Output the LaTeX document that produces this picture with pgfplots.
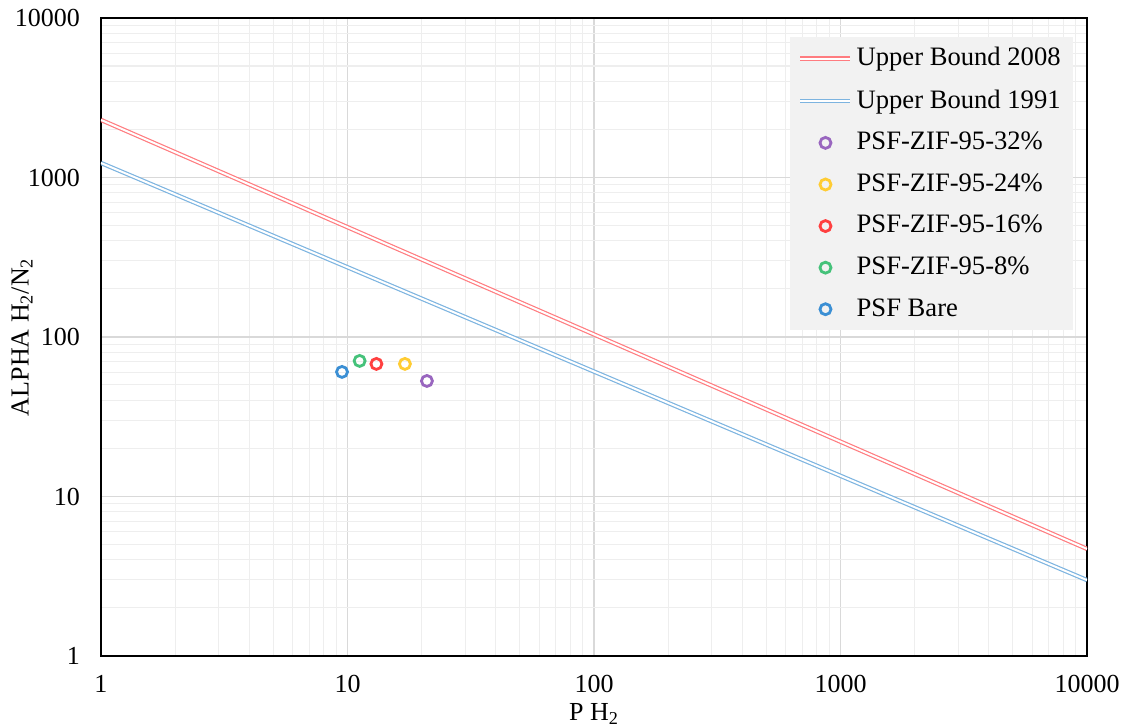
\documentclass[border=0pt]{standalone}
\usepackage{fontspec}
\setmainfont{Liberation Serif}
\usepackage{pgfplots}
\pgfplotsset{compat=1.18}
\definecolor{ubred}{HTML}{FF7C80}
\definecolor{ubblue}{HTML}{7DB4E0}
\definecolor{cpurp}{HTML}{9966BF}
\definecolor{cyell}{HTML}{FFCC33}
\definecolor{cred}{HTML}{FF4040}
\definecolor{cgreen}{HTML}{45C27A}
\definecolor{cblue}{HTML}{3B8FD4}
\definecolor{gridmaj}{HTML}{D9D9D9}
\definecolor{gridmin}{HTML}{EEEEEE}
\definecolor{legbg}{HTML}{F2F2F2}
\pgfplotsset{
  ubline/.style={draw=#1, line width=0.6pt, double=white, double distance=1pt,
    legend image code/.code={\draw[##1] (0pt,0pt) -- (25pt,0pt);}},
  mk/.style={only marks, mark=o, mark size=2.75pt,
    mark options={line width=1.4pt, draw=#1, fill=white},
    legend image code/.code={\draw[mark repeat=2,mark phase=2,##1] plot coordinates {(0pt,0pt) (12.5pt,0pt) (25pt,0pt)};}},
}
\begin{document}
\fontsize{13}{15}\selectfont
\begin{tikzpicture}
\begin{loglogaxis}[
  scale only axis, width=493pt, height=319pt,
  xmin=1, xmax=10000, ymin=1, ymax=10000,
  xtick={1,10,100,1000,10000}, xticklabels={1,10,100,1000,10000},
  ytick={1,10,100,1000,10000}, yticklabels={1,10,100,1000,10000},
  grid=both,
  major grid style={draw=gridmaj, line width=0.6pt},
  minor grid style={draw=gridmin, line width=0.5pt},
  axis line style={black, line width=0.8pt},
  major tick length=0pt, minor tick length=0pt,
  tick label style={font=\fontsize{13}{15}\selectfont},
  xticklabel style={yshift=-5pt},
  yticklabel style={xshift=-6pt},
  xlabel={P H\textsubscript{2}},
  ylabel={ALPHA H\textsubscript{2}/N\textsubscript{2}},
  xlabel style={at={(axis description cs:0.5,-0.0909)}, anchor=center, font=\fontsize{13}{15}\selectfont},
  ylabel style={at={(axis description cs:-0.0801,0.5)}, anchor=center, font=\fontsize{13}{15}\selectfont},
  legend style={at={(1,1)}, xshift=-7pt, yshift=-9.5pt, anchor=north east,
    fill=legbg, draw=none, font=\fontsize{13.3}{15}\selectfont, row sep=6.0pt,
    inner xsep=4pt, inner ysep=3pt},
  legend cell align=left,
  clip=true,
]
\addplot[ubline=ubred] coordinates {(1,2296) (10000,4.69)};
\addlegendentry{Upper Bound 2008}
\addplot[ubline=ubblue] coordinates {(1,1233) (10000,2.99)};
\addlegendentry{Upper Bound 1991}
\addplot[mk=cpurp] coordinates {(21.0,53.0)};
\addlegendentry{PSF-ZIF-95-32\%}
\addplot[mk=cyell] coordinates {(17.1,67.8)};
\addlegendentry{PSF-ZIF-95-24\%}
\addplot[mk=cred] coordinates {(13.1,67.8)};
\addlegendentry{PSF-ZIF-95-16\%}
\addplot[mk=cgreen] coordinates {(11.2,70.8)};
\addlegendentry{PSF-ZIF-95-8\%}
\addplot[mk=cblue] coordinates {(9.5,60.4)};
\addlegendentry{PSF Bare}
\end{loglogaxis}
\pgfresetboundingbox
\path ([shift={(-50.5pt,-35pt)}]current axis.south west) rectangle ([shift={(19pt,9pt)}]current axis.north east);
\end{tikzpicture}
\end{document}
